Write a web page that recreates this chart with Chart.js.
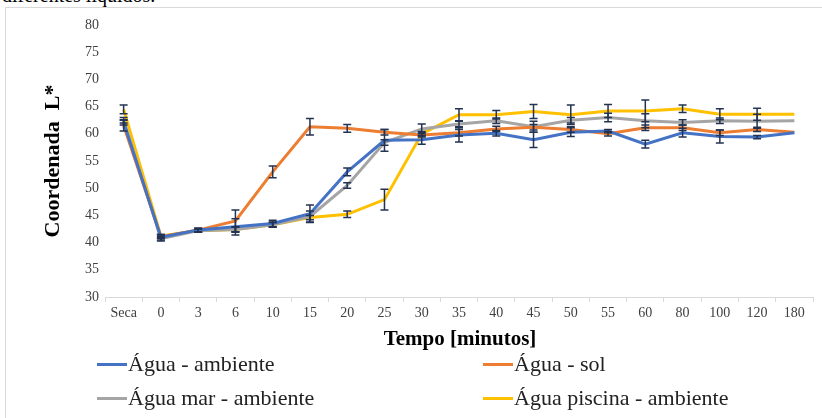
<!DOCTYPE html>
<html>
<head>
<meta charset="utf-8">
<script src="https://cdn.jsdelivr.net/npm/chart.js@4.4.1/dist/chart.umd.min.js"></script>
<style>
  html, body { margin:0; padding:0; background:#fff; }
  #wrap { position:relative; width:822px; height:418px; overflow:hidden; font-family:"Liberation Serif","Times New Roman",serif; }
  #frame { position:absolute; left:5px; top:7px; width:900px; height:500px; border:1px solid #d9d9d9; box-sizing:border-box; }
  #cap { position:absolute; left:2px; top:-16px; font-family:"Liberation Serif",serif; font-size:20px; color:#000; white-space:nowrap; }
  canvas { position:absolute; left:0; top:0; }
  #xt { position:absolute; left:0; width:822px; top:326px; text-align:center; font-family:"Liberation Serif",serif; font-weight:bold; font-size:21px; color:#000; padding-left:98px; box-sizing:border-box; }
  .lg { position:absolute; font-family:"Liberation Serif","Times New Roman",serif; font-size:22px; color:#222; white-space:nowrap; line-height:22px; }
  .lg span.sw { display:inline-block; width:30px; height:3px; vertical-align:middle; margin-right:1px; position:relative; top:-1px; }
</style>
</head>
<body>
<div id="wrap">
  <div id="cap">diferentes líquidos.</div>
  <div id="frame"></div>
  <canvas id="c" width="822" height="418"></canvas>
  <div id="xt">Tempo [minutos]</div>
  <div id="legend"></div>
</div>
<script>
const categories = ['Seca','0','3','6','10','15','20','25','30','35','40','45','50','55','60','80','100','120','180'];
const seriesNames = ['Água - ambiente','Água - sol','Água mar - ambiente','Água piscina - ambiente'];
const aguaAmbiente = [62.1, 41.0, 42.3, 42.9, 43.5, 45.3, 53.0, 58.8, 58.9, 59.8, 60.1, 58.9, 60.3, 60.5, 58.1, 60.2, 59.5, 59.4, 60.2];
const aguaSol      = [61.5, 41.1, 42.3, 44.0, 53.0, 61.3, 61.0, 60.3, 59.8, 60.2, 60.9, 61.2, 60.8, 60.0, 61.1, 61.1, 60.2, 60.8, 60.3];
const aguaMar      = [62.5, 40.7, 42.2, 42.4, 43.3, 44.8, 50.5, 58.4, 60.9, 61.8, 62.4, 61.3, 62.5, 63.0, 62.4, 62.1, 62.4, 62.3, 62.4];
const aguaPiscina  = [64.5, 41.2, 42.2, 42.4, 43.3, 44.6, 45.2, 47.9, 60.0, 63.5, 63.5, 64.1, 63.5, 64.2, 64.2, 64.6, 63.6, 63.6, 63.6];
const errAmbiente  = [0.5, 0.5, 0.4, 1.5, 0.6, 1.6, 0.7, 2.0, 0.8, 1.3, 0.5, 1.4, 0.8, 0.3, 0.7, 0.8, 1.2, 0.3, 0];
const errSol       = [1.0, 0.3, 0.3, 2.0, 1.1, 1.5, 0.7, 0.5, 0.4, 0.6, 0.5, 0.5, 0.5, 0.4, 0.5, 0.5, 0.5, 0.4, 0];
const errMar       = [0.5, 0.4, 0.3, 0.5, 0.5, 1.0, 0.5, 0.5, 0.9, 0.5, 0.5, 1.0, 0.5, 0.8, 1.3, 0.5, 0.5, 1.3, 0];
const errPiscina   = [0.8, 0.3, 0.3, 0.4, 0.4, 0.4, 0.6, 1.9, 0.4, 1.1, 0.8, 1.3, 1.8, 1.2, 2.0, 0.7, 1.0, 1.1, 0];
const yTicks = [30, 35, 40, 45, 50, 55, 60, 65, 70, 75, 80];
const colors = ['#4472C4', '#ED7D31', '#A5A5A5', '#FFC000'];

const seriesValues = [aguaAmbiente, aguaSol, aguaMar, aguaPiscina];
const seriesErrors = [errAmbiente, errSol, errMar, errPiscina];

const errorBars = {
  id: 'errorBars',
  afterDatasetsDraw(chart) {
    const ctx = chart.ctx;
    const y = chart.scales.y;
    ctx.save();
    ctx.strokeStyle = '#243352';
    ctx.lineWidth = 1.5;
    chart.data.datasets.forEach((ds, i) => {
      const meta = chart.getDatasetMeta(i);
      meta.data.forEach((pt, j) => {
        const e = ds.errors[j];
        if (!e) return;
        const v = ds.data[j];
        const x = pt.x;
        const y1 = y.getPixelForValue(v + e), y2 = y.getPixelForValue(v - e);
        ctx.beginPath();
        ctx.moveTo(x, y1); ctx.lineTo(x, y2);
        ctx.moveTo(x - 4, y1); ctx.lineTo(x + 4, y1);
        ctx.moveTo(x - 4, y2); ctx.lineTo(x + 4, y2);
        ctx.stroke();
      });
    });
    ctx.restore();
  }
};

new Chart(document.getElementById('c'), {
  type: 'line',
  data: {
    labels: categories,
    datasets: seriesNames.map((n, i) => ({
      label: n,
      data: seriesValues[i],
      errors: seriesErrors[i],
      borderColor: colors[i],
      backgroundColor: colors[i],
      borderWidth: 3,
      pointRadius: 0,
      tension: 0,
      fill: false
    }))
  },
  options: {
    responsive: false,
    animation: false,
    layout: { padding: { left: 40, top: 25, right: 9, bottom: 0 } },
    plugins: { legend: { display: false }, tooltip: { enabled: false } },
    scales: {
      x: {
        offset: true,
        grid: { offset: true, drawOnChartArea: false, drawTicks: true, tickLength: 5, color: '#d9d9d9' },
        border: { display: true, color: '#d9d9d9', width: 1 },
        ticks: { color: '#404040', font: { family: 'Liberation Serif', size: 14 }, padding: 3, maxRotation: 0, autoSkip: false },
        afterFit(s) { s.height = 121; }
      },
      y: {
        min: 30, max: 80,
        afterBuildTicks(s) { s.ticks = yTicks.map(v => ({ value: v })); },
        grid: { display: false, drawTicks: false },
        border: { display: false },
        ticks: { color: '#404040', font: { family: 'Liberation Serif', size: 14 }, padding: 6 },
        title: { display: true, text: 'Coordenada  L*', color: '#000', font: { family: 'Liberation Serif', size: 22, weight: 'bold' }, padding: 0 },
        afterFit(s) { s.width = 65; }
      }
    }
  },
  plugins: [errorBars]
});

const legendPos = [[97, 353], [483, 353], [97, 387], [483, 387]];
const lg = document.getElementById('legend');
seriesNames.forEach((n, i) => {
  const d = document.createElement('div');
  d.className = 'lg';
  d.style.left = legendPos[i][0] + 'px';
  d.style.top = legendPos[i][1] + 'px';
  const sw = document.createElement('span');
  sw.className = 'sw';
  sw.style.background = colors[i];
  d.appendChild(sw);
  d.appendChild(document.createTextNode(n));
  lg.appendChild(d);
});
</script>
</body>
</html>
